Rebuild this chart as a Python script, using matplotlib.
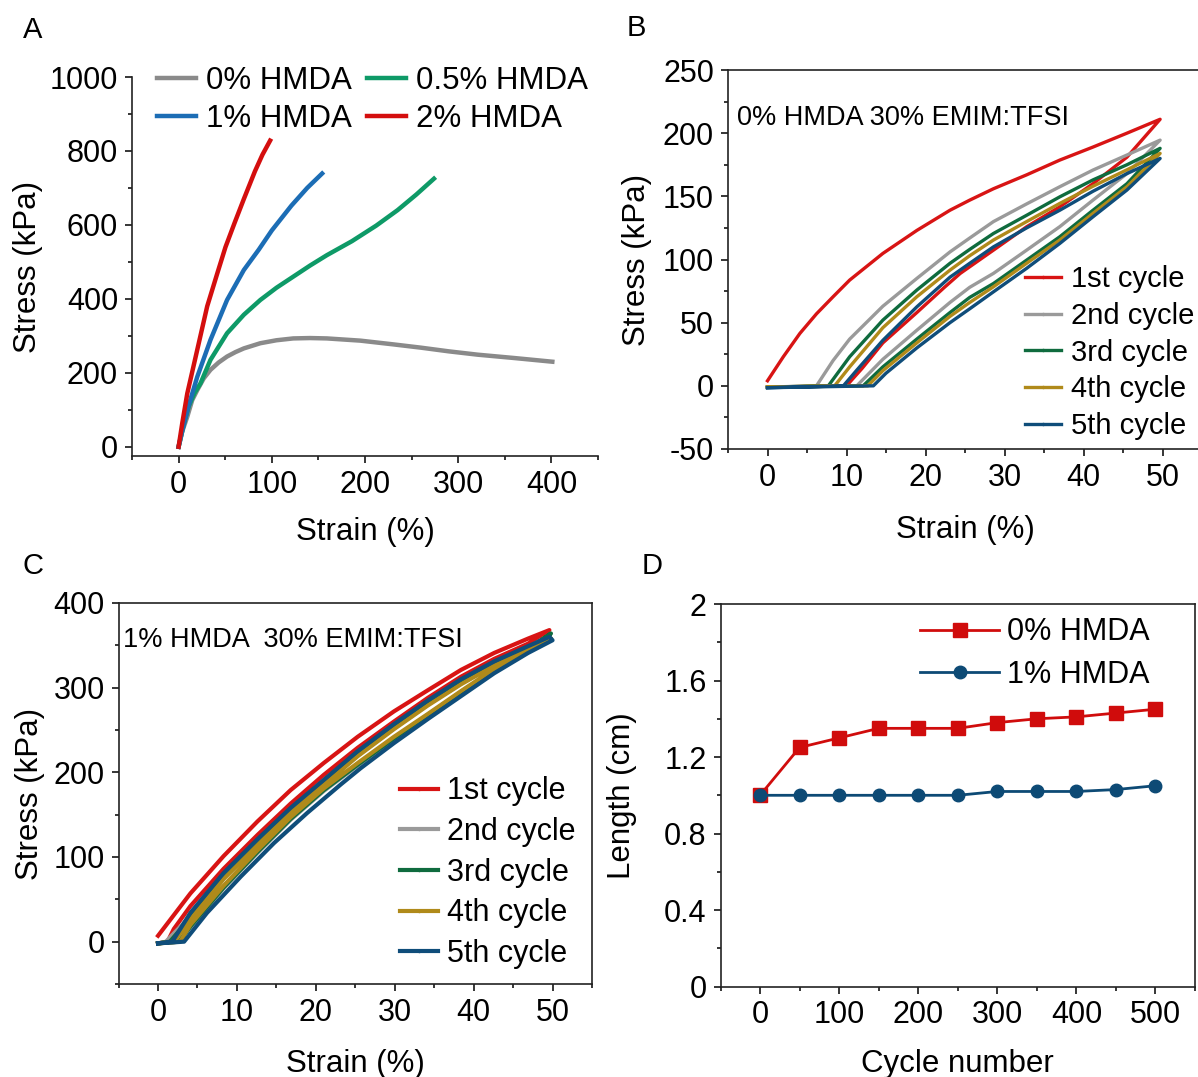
import matplotlib
matplotlib.use('Agg')
import matplotlib.pyplot as plt
from matplotlib.lines import Line2D
from matplotlib.ticker import MultipleLocator

plt.rcParams['font.family'] = ['Liberation Sans', 'DejaVu Sans']
plt.rcParams['axes.unicode_minus'] = False

# ---------- panel A: tensile curves ----------
a_x_0 = [0, 4, 9.3, 14.6, 20, 27, 34.2, 43, 52, 61, 70, 87.7, 105, 123, 141, 159, 177, 195, 230, 260, 290, 321, 360, 401]
a_y_0 = [0, 42, 81, 126, 153, 185, 208, 228, 244, 256, 266, 280, 288, 293, 294, 293, 290, 287, 277, 268, 258, 249, 240, 230]
a_x_05 = [0, 5, 11, 17, 23.5, 34.2, 52, 70, 87.7, 105, 123, 141, 159, 186, 212, 235, 255, 274]
a_y_05 = [0, 55, 110, 145, 171.5, 235, 307, 357, 397, 430, 460, 490, 518, 556, 598, 640, 682, 725]
a_x_1 = [0, 5, 10, 20, 34.2, 52, 70, 86, 100, 121, 138, 154]
a_y_1 = [0, 55, 105, 189, 289, 397, 478, 533, 585, 652, 700, 739]
a_x_2 = [0, 4, 9.3, 20, 30.7, 41.4, 50.3, 60, 70, 81.9, 90, 98.2]
a_y_2 = [0, 65, 144, 262, 380, 468, 540, 605, 670, 745, 790, 828]
a_labels = ['0% HMDA', '0.5% HMDA', '1% HMDA', '2% HMDA']

# ---------- panel B: 0% HMDA cyclic loading (load -> unload -> back to 0) ----------
b1_x = [0, 2, 4.1, 6.2, 8.3, 10.4, 14.6, 18.9, 23.1, 25.6, 28.6, 32.8, 37, 41.2, 45.5, 49.7,
        45.5, 41.2, 37, 32.8, 28.6, 24.4, 22.4, 18.9, 14.6, 12, 10, 0]
b1_y = [4, 23, 41.5, 57, 70.5, 83.7, 104.8, 123, 139, 147, 156, 167, 178.7, 189, 200, 211,
        181, 160, 141.7, 125.9, 107.4, 89, 78, 58, 34, 14, 0, -1]
b2_x = [0, 6.2, 8.3, 10.4, 14.6, 18.9, 23.1, 25.6, 28.6, 32.8, 37, 41.2, 45.5, 49.7,
        45.5, 41.2, 37, 32.8, 28.6, 25.6, 23.1, 18.9, 14.6, 11.3, 0]
b2_y = [-1, 0, 20, 37, 63, 85, 106, 117, 130, 144, 157.6, 170.8, 182.7, 194.5,
        168, 147, 126, 107.4, 89, 78, 66, 44, 21, 0, -1]
b3_x = [0, 7.7, 10.4, 14.6, 18.9, 23.1, 25.6, 28.6, 32.8, 37, 41.2, 45.5, 49.7,
        45.5, 41.2, 37, 32.8, 28.6, 25.6, 23.1, 18.9, 14.6, 12.1, 0]
b3_y = [-1, 0, 23, 52, 75.8, 97, 108, 120.6, 135, 149.6, 163, 175, 188,
        160, 139, 118, 99.5, 81, 70, 58, 37, 15, 0, -1]
b4_x = [0, 8.5, 10.4, 14.6, 18.9, 23.1, 25.6, 28.6, 32.8, 37, 41.2, 45.5, 49.7,
        45.5, 41.2, 37, 32.8, 28.6, 25.6, 23.1, 18.9, 14.6, 12.7, 0]
b4_y = [-1, 0, 15, 46, 70.5, 91.6, 103, 115.4, 130, 144.4, 158, 171, 184,
        157.6, 136.5, 115.4, 97, 78.4, 66, 55, 34, 12, 0, -1]
b5_x = [0, 9.6, 11.3, 14.6, 18.9, 23.1, 25.6, 28.6, 32.8, 37, 41.2, 45.5, 49.7,
        45.5, 41.2, 37, 32.8, 28.6, 25.6, 23.1, 18.9, 15, 13.4, 0]
b5_y = [-1.5, 0, 12.4, 36, 62.5, 86, 97, 110, 125, 139, 154, 168, 180,
        155, 133.8, 112.7, 93, 74.4, 61, 50, 30, 10, 0, -1.5]

# ---------- panel C: 1% HMDA cyclic loading ----------
c1_x = [0, 4.1, 8.3, 12.6, 16.8, 21, 25.3, 29.9, 34.2, 38.4, 42.6, 46.9, 49.6,
        46.9, 42.6, 38.4, 34.2, 29.9, 25.3, 21, 16.8, 12.6, 8.3, 4.1, 2, 1.2, 0]
c1_y = [7, 57, 101, 142, 179, 211, 242, 272, 297, 321, 341, 358, 368,
        352, 334, 313, 288, 260, 229, 197, 163, 126, 86, 42, 15, 0, -2]
c2_x = [0, 1.0, 4.1, 8.3, 12.6, 16.8, 21, 25.3, 29.9, 34.2, 38.4, 42.6, 46.9, 49.6,
        46.9, 42.6, 38.4, 34.2, 29.9, 25.3, 21, 16.8, 12.6, 8.3, 4.1, 2.5, 0]
c2_y = [-2, 0, 30, 77, 117, 156, 188, 222, 254, 282, 307, 328, 347, 362,
        343, 320, 294, 267, 239, 208, 178, 144, 105, 63, 17, 0, -2]
c3_x = [0, 1.5, 4.1, 8.3, 12.6, 16.8, 21, 25.3, 29.9, 34.2, 38.4, 42.6, 46.9, 49.8,
        46.9, 42.6, 38.4, 34.2, 29.9, 25.3, 21, 16.8, 12.6, 8.3, 4.1, 2.7, 0]
c3_y = [-2, 0, 28, 75, 115, 154, 186, 220, 252, 280, 305, 327, 346, 364,
        344, 321, 295, 268, 240, 209, 179, 145, 106, 64, 18, 0, -2]
c4_x = [0, 2.0, 4.1, 8.3, 12.6, 16.8, 21, 25.3, 29.9, 34.2, 38.4, 42.6, 46.9, 49.8,
        46.9, 42.6, 38.4, 34.2, 29.9, 25.3, 21, 16.8, 12.6, 8.3, 4.1, 2.8, 0]
c4_y = [-2, 0, 26, 74, 114, 153, 185, 219, 251, 279, 304, 326, 345, 358,
        345, 322, 296, 269, 242, 211, 181, 147, 108, 66, 20, 0, -2]
c5_x = [0, 1.8, 4.1, 8.3, 12.6, 16.8, 21, 25.3, 29.9, 34.2, 38.4, 42.6, 46.9, 49.6,
        50, 46.9, 42.6, 38.4, 34.2, 29.9, 25.7, 23.2, 18.9, 14.7, 10.5, 6.2, 3.3, 0]
c5_y = [-2, 0, 34, 81, 121, 158, 191, 225, 257, 285, 310, 331, 349, 360,
        356, 341, 317, 290, 263, 234.5, 205, 186, 152, 116.5, 77, 34, 0, -2]

cycle_labels = ['1st cycle', '2nd cycle', '3rd cycle', '4th cycle', '5th cycle']
cycle_colors = ['#d81414', '#9a9a9a', '#0f6b3e', '#b08a1a', '#0f4d7a']

# ---------- panel D: length vs cycle number ----------
d_cycles = [0, 50, 100, 150, 200, 250, 300, 350, 400, 450, 500]
d_len_0 = [1.00, 1.25, 1.30, 1.35, 1.35, 1.35, 1.38, 1.40, 1.41, 1.43, 1.45]
d_len_1 = [1.00, 1.00, 1.00, 1.00, 1.00, 1.00, 1.02, 1.02, 1.02, 1.03, 1.05]

W, H = 1198, 1077
fig = plt.figure(figsize=(W / 100, H / 100), dpi=100)


def box(l, t, r, b):
    return [l / W, 1 - b / H, (r - l) / W, (b - t) / H]


def style(ax):
    ax.tick_params(which='both', direction='out', labelsize=22, width=1.1, pad=5)
    ax.tick_params(which='major', length=5)
    ax.tick_params(which='minor', length=3)
    for s in ax.spines.values():
        s.set_linewidth(1.2)
        s.set_color('#222222')


axA = fig.add_axes(box(132, 77, 598, 456))
axB = fig.add_axes(box(728, 70, 1202, 449))
axC = fig.add_axes(box(118.6, 603, 592, 984))
axD = fig.add_axes(box(720.5, 604, 1195, 986.6))

LBL = 22.5

# A
lA0, = axA.plot(a_x_0, a_y_0, color='#8a8a8a', lw=3.2)
lA05, = axA.plot(a_x_05, a_y_05, color='#0e9a67', lw=3.2)
lA1, = axA.plot(a_x_1, a_y_1, color='#1c6db5', lw=3.2)
lA2, = axA.plot(a_x_2, a_y_2, color='#d40e0e', lw=3.2)
axA.set_xlim(-50, 450)
axA.set_ylim(-25, 1000)
axA.set_xticks([0, 100, 200, 300, 400])
axA.set_yticks([0, 200, 400, 600, 800, 1000])
axA.xaxis.set_minor_locator(MultipleLocator(50))
axA.yaxis.set_minor_locator(MultipleLocator(100))
axA.spines['top'].set_visible(False)
axA.spines['right'].set_visible(False)
style(axA)
axA.set_xlabel('Strain (%)', fontsize=LBL)
axA.set_ylabel('Stress (kPa)', fontsize=LBL)
axA.xaxis.set_label_coords(0.5, -0.16)
axA.yaxis.set_label_coords(-0.19, 0.5)
axA.legend([lA0, lA1, lA05, lA2], [a_labels[0], a_labels[2], a_labels[1], a_labels[3]],
           ncol=2, frameon=False, fontsize=22.5, loc='upper left',
           bbox_to_anchor=(0.054, 1.03), borderaxespad=0, borderpad=0,
           handlelength=1.25, handletextpad=0.3, columnspacing=0.5, labelspacing=0.28)

# B
for xs, ys, c in zip([b1_x, b2_x, b3_x, b4_x, b5_x], [b1_y, b2_y, b3_y, b4_y, b5_y], cycle_colors):
    axB.plot(xs, ys, color=c, lw=2.4)
axB.set_xlim(-5, 55)
axB.set_ylim(-50, 250)
axB.set_xticks([0, 10, 20, 30, 40, 50])
axB.set_yticks([-50, 0, 50, 100, 150, 200, 250])
axB.xaxis.set_minor_locator(MultipleLocator(5))
axB.yaxis.set_minor_locator(MultipleLocator(25))
style(axB)
axB.set_xlabel('Strain (%)', fontsize=LBL)
axB.set_ylabel('Stress (kPa)', fontsize=LBL)
axB.xaxis.set_label_coords(0.5, -0.175)
axB.yaxis.set_label_coords(-0.16, 0.5)
axB.text(-3.8, 212, '0% HMDA 30% EMIM:TFSI', fontsize=19.5, va='center', ha='left')
hB = [Line2D([], [], color=c, lw=2.4, marker='.', ms=3) for c in cycle_colors]
axB.legend(hB, cycle_labels, frameon=False, fontsize=21, loc='upper left',
           bbox_to_anchor=(0.626, 0.485), borderaxespad=0, borderpad=0,
           handlelength=1.25, handletextpad=0.35, labelspacing=0.3)

# C
for xs, ys, c in zip([c1_x, c2_x, c3_x, c4_x, c5_x], [c1_y, c2_y, c3_y, c4_y, c5_y], cycle_colors):
    axC.plot(xs, ys, color=c, lw=3.0)
axC.set_xlim(-5, 55)
axC.set_ylim(-50, 400)
axC.set_xticks([0, 10, 20, 30, 40, 50])
axC.set_yticks([0, 100, 200, 300, 400])
axC.xaxis.set_minor_locator(MultipleLocator(5))
axC.yaxis.set_minor_locator(MultipleLocator(50))
style(axC)
axC.set_xlabel('Strain (%)', fontsize=LBL)
axC.set_ylabel('Stress (kPa)', fontsize=LBL)
axC.xaxis.set_label_coords(0.5, -0.17)
axC.yaxis.set_label_coords(-0.155, 0.5)
axC.text(-4.5, 356, '1% HMDA  30% EMIM:TFSI', fontsize=19.5, va='center', ha='left')
hC = [Line2D([], [], color=c, lw=3.0, marker='.', ms=3) for c in cycle_colors]
axC.legend(hC, cycle_labels, frameon=False, fontsize=22, loc='upper left',
           bbox_to_anchor=(0.594, 0.545), borderaxespad=0, borderpad=0,
           handlelength=1.25, handletextpad=0.3, labelspacing=0.35)

# D
lD0, = axD.plot(d_cycles, d_len_0, color='#d00c0c', lw=2, marker='s', ms=10)
lD1, = axD.plot(d_cycles, d_len_1, color='#0d4a75', lw=2, marker='o', ms=9)
axD.set_xlim(-50, 550)
axD.set_ylim(0, 2)
axD.set_xticks([0, 100, 200, 300, 400, 500])
axD.set_yticks([0, 0.4, 0.8, 1.2, 1.6, 2])
axD.set_yticklabels(['0', '0.4', '0.8', '1.2', '1.6', '2'])
axD.xaxis.set_minor_locator(MultipleLocator(50))
axD.yaxis.set_minor_locator(MultipleLocator(0.2))
style(axD)
axD.set_xlabel('Cycle number', fontsize=LBL)
axD.set_ylabel('Length (cm)', fontsize=LBL)
axD.xaxis.set_label_coords(0.5, -0.163)
axD.yaxis.set_label_coords(-0.175, 0.5)
axD.legend([lD0, lD1], ['0% HMDA', '1% HMDA'], frameon=False, fontsize=22, loc='upper left',
           bbox_to_anchor=(0.42, 0.965), borderaxespad=0, borderpad=0,
           handlelength=2.6, handletextpad=0.25, labelspacing=0.4)

for letter, x, y in [('A', 33, 30), ('B', 636, 28), ('C', 32.5, 566), ('D', 651.7, 566)]:
    fig.text(x / W, 1 - y / H, letter, fontsize=21, ha='center', va='center')

fig.savefig('out.png', dpi=100)
